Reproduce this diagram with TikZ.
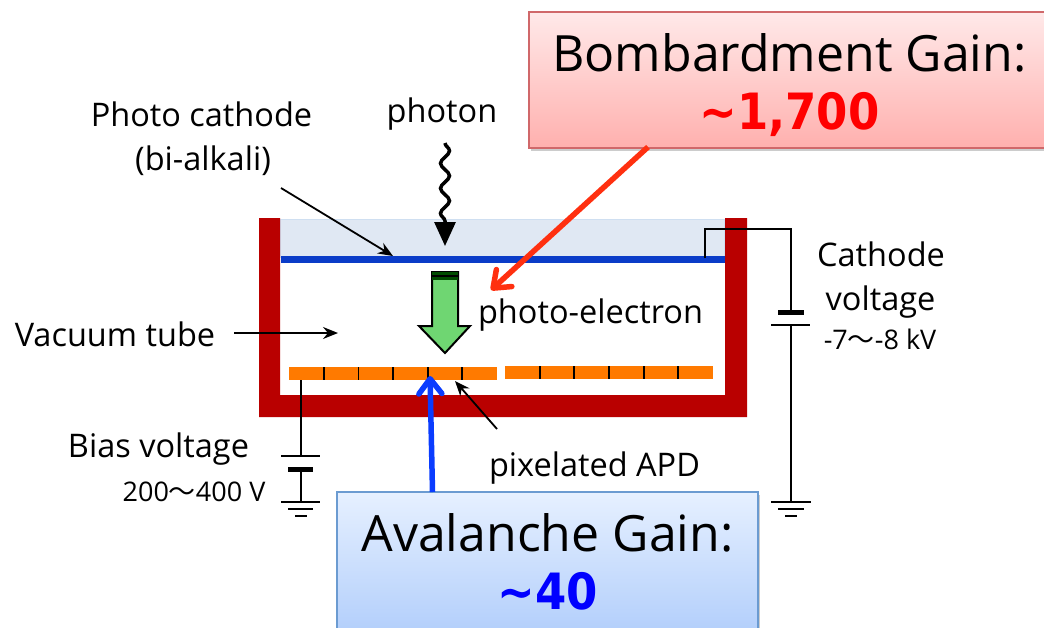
\documentclass[tikz,border=0pt]{standalone}
\usepackage{fontspec}
\setmainfont{Open Sans}
\newfontfamily\cjk{Noto Sans CJK JP}
\newfontfamily\numfont[FakeStretch=0.9]{DejaVu Sans}
\usetikzlibrary{arrows.meta,shadows,decorations.pathmorphing}
\definecolor{tubered}{HTML}{B90000}
\definecolor{windowblue}{HTML}{E0E8F3}
\definecolor{windowedge}{HTML}{CFDFF1}
\definecolor{cathodeblue}{HTML}{0A3CC8}
\definecolor{apdorange}{HTML}{FF7A00}
\definecolor{redarrow}{HTML}{FF3010}
\definecolor{bluearrow}{HTML}{0A3CFF}
\definecolor{arrowgreen}{HTML}{6FD672}
\definecolor{bombtop}{HTML}{FFE9E9}
\definecolor{bombbottom}{HTML}{FFB0AE}
\definecolor{bombedge}{HTML}{D0686A}
\definecolor{avatop}{HTML}{E6F0FF}
\definecolor{avabottom}{HTML}{B0CDFB}
\definecolor{avaedge}{HTML}{6B9BD1}
\tikzset{
  lbl/.style={inner sep=0pt, align=center, font=\fontsize{32.5}{46}\selectfont},
  smalllbl/.style={inner sep=0pt, font=\fontsize{27}{28}\selectfont},
  wire/.style={line width=1.8pt, black},
  plate/.style={line width=5pt, black},
  callout/.style={-{Stealth[length=15pt,width=12pt,inset=5pt]}, line width=1.8pt},
  gainarrow/.style={-{Straight Barb[round,length=15pt,width=23pt]}, line width=5.5pt},
  gainbox/.style={draw, line width=2pt, inner sep=0pt, drop shadow={shadow xshift=2pt, shadow yshift=-3pt, opacity=.4}},
  gaintext/.style={inner sep=0pt, align=center, font=\fontsize{50}{57.5}\selectfont},
}
\begin{document}
\begin{tikzpicture}[x=1pt,y=-1pt]
\clip (0,0) rectangle (1044,627);
\fill[white] (0,0) rectangle (1044,627);
\fill[windowblue] (280,219) rectangle (725,258);
\draw[windowedge, line width=1.5pt] (280,258) -- (280,219.5) -- (725,219.5) -- (725,258);
\fill[tubered] (259,218) -- (280,218) -- (280,395) -- (725,395) -- (725,218) -- (747,218) -- (747,417) -- (259,417) -- cycle;

\coordinate (cleft) at (281,259.3);
\coordinate (cright) at (725,259.3);
\draw[cathodeblue, line width=6.5pt] (cleft) -- (cright);

\fill[apdorange] (289,367) rectangle (497,380);
\fill[apdorange] (505,366) rectangle (713,379);
\foreach \tickx in {324,358.5,393,428,462}{
\draw[line width=1.6pt] (\tickx,367) -- (\tickx,380);
}
\foreach \tickx in {540,574,609,644,678}{
\draw[line width=1.6pt] (\tickx,366) -- (\tickx,379);
}

\draw[black, line width=2pt, fill=arrowgreen] (432,272) -- (458,272) -- (458,326) -- (470,326) -- (445,353) -- (419,326) -- (432,326) -- cycle;
\fill[black!70!green] (432,272) rectangle (458,280);
\draw[black, line width=1.2pt] (432,276) -- (458,276);

\node[lbl] (ncathode) at (201.5,114) {Photo cathode};
\node[lbl] (nalkali) at (203,161) {(bi-alkali)};
\node[lbl] (nphoton) at (442,114) {photon};
\node[lbl] (nelectron) at (590.5,315) {photo-electron};
\node[lbl] (nvacuum) at (115,334) {Vacuum tube};
\node[lbl] (nvoltage) at (881,254) {Cathode};
\node[lbl] (nvolt) at (880.5,302) {voltage};
\node[smalllbl] (nkv) at (880,339) {-7{\cjk 〜}-8 kV};
\node[lbl] (nbias) at (158.5,449) {Bias voltage};
\node[smalllbl] (nrange) at (194,492) {200{\cjk 〜}400 V};
\node[lbl] (napd) at (594.5,468) {pixelated APD};

\node[gainbox, minimum width=521pt, minimum height=136pt, top color=bombtop, bottom color=bombbottom, draw=bombedge] (nbomb) at (789.5,80) {};
\node[gaintext] (nbombtext) at (789.5,85) {Bombardment Gain:\\[1pt]{\numfont\bfseries\color{red}\string~1,700}};
\node[gainbox, minimum width=421pt, minimum height=148pt, top color=avatop, bottom color=avabottom, draw=avaedge] (navalanche) at (547.5,566) {};
\node[gaintext] (navatext) at (547.5,562) {Avalanche Gain:\\[1pt]{\numfont\bfseries\color{blue}\string~40}};

\coordinate (aphoto) at (281,188);
\coordinate (bphoto) at (393,256);
\draw[callout] (aphoto) -- (bphoto);
\coordinate (avac) at (234,333);
\coordinate (bvac) at (338,333);
\draw[callout] (avac) -- (bvac);
\coordinate (aapd) at (497,429);
\coordinate (bapd) at (455,381);
\draw[callout] (aapd) -- (bapd);

\coordinate (awave) at (445,143);
\coordinate (bwave) at (445,222);
\coordinate (cwave) at (445,246);
\draw[line width=3.5pt, decorate, decoration={snake, segment length=25pt, amplitude=4.5pt}] (awave) -- (bwave);
\draw[-{Stealth[length=24pt,width=21pt,inset=0pt]}, line width=3pt] (bwave) -- (cwave);

\coordinate (ared) at (648,147);
\coordinate (bred) at (491,290);
\draw[gainarrow, redarrow] (ared) -- (bred);
\coordinate (ablue) at (432.5,492);
\coordinate (bblue) at (430,376);
\draw[gainarrow, bluearrow] (ablue) -- (bblue);

\coordinate (biastop) at (301,380);
\coordinate (biasa) at (301,456);
\coordinate (biasb) at (301,469);
\coordinate (biasc) at (301,502);
\draw[wire] (biastop) -- (biasa);
\draw[wire] (biasb) -- (biasc);
\draw[wire] (281,456) -- (320,456);
\draw[plate] (288,469) -- (313,469);
\draw[wire] (281,502) -- (320,502);
\draw[wire] (288,509) -- (313,509);
\draw[wire] (295,516) -- (307,516);

\coordinate (wirea) at (705,258);
\coordinate (wireb) at (705,229);
\coordinate (wirec) at (791,229);
\coordinate (wired) at (791,312);
\coordinate (wiree) at (791,325);
\coordinate (wiref) at (791,502);
\draw[wire] (wirea) -- (wireb) -- (wirec) -- (wired);
\draw[wire] (wiree) -- (wiref);
\draw[plate] (778,312) -- (804,312);
\draw[wire] (771,325) -- (810,325);
\draw[wire] (771,502) -- (811,502);
\draw[wire] (778,509) -- (804,509);
\draw[wire] (785,516) -- (797,516);
\end{tikzpicture}
\end{document}
